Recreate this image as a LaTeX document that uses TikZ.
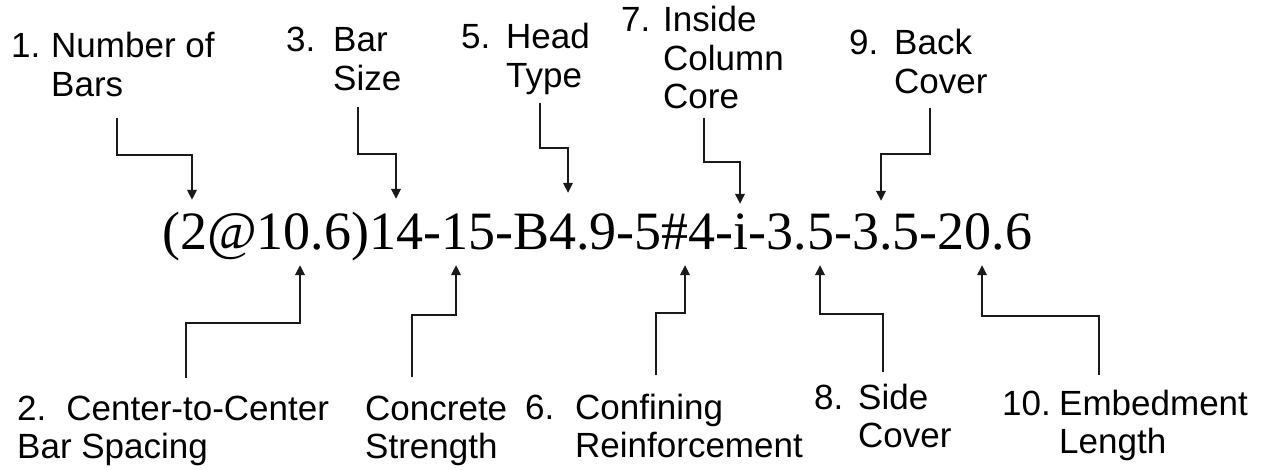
\documentclass[tikz,border=0pt]{standalone}
\usepackage{fontspec}
\setmainfont{Liberation Sans}
\newfontfamily\codefont{Liberation Serif}
\usetikzlibrary{arrows.meta}
\newcommand{\lines}[1]{\begin{tabular}[t]{@{}l@{}}#1\end{tabular}}

\begin{document}
\begin{tikzpicture}[x=1pt, y=-1pt,
    lab/.style={font=\fontsize{35}{38.5}\selectfont, inner sep=0pt, anchor=base west},
    link/.style={line width=2.6pt, draw=black!90, -{Triangle[length=10pt,width=9pt]}}]
  \useasboundingbox (0,0) rectangle (1265,470);
  % specimen code
  \node[inner sep=0pt, anchor=base west, font=\codefont\fontsize{54}{60}\selectfont] (code) at (162,250) {(2@10.6)14-15-B4.9-5\#4-i-3.5-3.5-20.6};
  % numbered labels
  \foreach \n/\nx/\tx/\by/\txt in {
      1/11/51/58/{Number of\\Bars},
      3/286/333/52/{Bar\\Size},
      5/461/506/49/{Head\\Type},
      7/621/663/32/{Inside\\Column\\Core},
      9/849/894/55/{Back\\Cover},
      6/525/575/419/{Confining\\Reinforcement},
      8/814/858/409/{Side\\Cover},
      10/1002/1059/415/{Embedment\\Length}} {
    \node[lab] (num\n) at (\nx,\by) {\n.};
    \node[lab] (lab\n) at (\tx,\by) {\lines{\txt}};
  }
  \node[lab] (lab2) at (17,420) {\lines{2.\hspace{20pt}Center-to-Center\\Bar Spacing}};
  \node[lab] (lab4) at (365,420) {\lines{Concrete\\Strength}};
  % connectors: start, bend height, tip
  \foreach \n/\sx/\sy/\hy/\tx/\ty in {
      1/117/118/155/192/200, 3/358/107/154/396/199, 5/540/103/148/568/193,
      7/704/118/162/740/204, 9/930/108/154/881/201,
      2/186/378/323/300/265, 4/412/377/315/456/265, 6/656/375/313/685/265,
      8/883/372/314/820/265, 10/1099/375/316/982/265} {
    \coordinate (s\n) at (\sx,\sy);
    \coordinate (t\n) at (\tx,\ty);
    \draw[link] (s\n) -- ++(0,\hy-\sy) -| (t\n);
  }
\end{tikzpicture}
\end{document}
